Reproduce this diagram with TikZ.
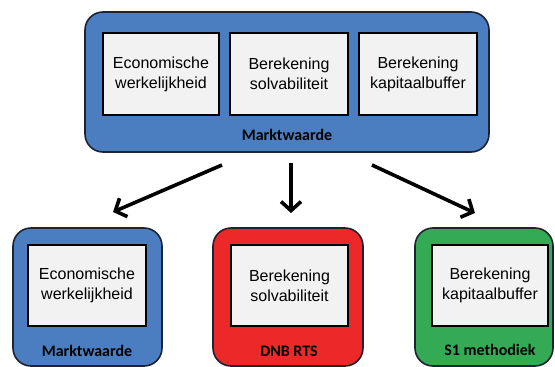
\documentclass[tikz,border=0pt]{standalone}
\usepackage{fontspec}
\setmainfont{Liberation Sans}
\newfontfamily\labelfont{Carlito}
\usetikzlibrary{arrows.meta}
\definecolor{boxblue}{RGB}{74,126,193}
\definecolor{boxred}{RGB}{236,40,40}
\definecolor{boxgreen}{RGB}{52,170,84}
\definecolor{innerfill}{RGB}{242,242,242}
\definecolor{edgedark}{RGB}{30,35,50}
\begin{document}
\begin{tikzpicture}[x=1pt,y=-1pt,
  outerbox/.style={draw=edgedark,line width=1.6pt,rounded corners=18pt,inner sep=0pt},
  innerbox/.style={draw=black,line width=1.6pt,fill=innerfill,inner sep=0pt,
    align=center,font=\fontsize{16}{20}\selectfont},
  lbl/.style={font=\labelfont\bfseries\fontsize{16}{18}\selectfont,inner sep=0pt},
  arr/.style={line width=3.6pt,-{Straight Barb[length=9pt,width=20pt,line width=3.6pt]}}
]
\useasboundingbox (0,0) rectangle (555,367);
% top group
\node[outerbox,fill=boxblue,minimum width=404pt,minimum height=140pt] (top) at (287,82) {};
\node[innerbox,minimum width=116pt,minimum height=82pt] (t1) at (161,74) {Economische\\werkelijkheid};
\node[innerbox,minimum width=118pt,minimum height=82pt] (t2) at (289,74) {Berekening\\solvabiliteit};
\node[innerbox,minimum width=118pt,minimum height=82pt] (t3) at (418,74) {Berekening\\kapitaalbuffer};
\node[lbl] (tl) at (287,135) {Marktwaarde};
% bottom groups
\node[outerbox,fill=boxblue,minimum width=149pt,minimum height=138pt] (b1) at (87.5,297) {};
\node[outerbox,fill=boxred,minimum width=150pt,minimum height=138pt] (b2) at (288,297) {};
\node[outerbox,fill=boxgreen,minimum width=138pt,minimum height=138pt] (b3) at (484,297) {};
\node[innerbox,minimum width=118pt,minimum height=81pt] (i1) at (87,285.5) {Economische\\werkelijkheid};
\node[innerbox,minimum width=117pt,minimum height=81pt] (i2) at (289.5,285.5) {Berekening\\solvabiliteit};
\node[innerbox,minimum width=116pt,minimum height=81pt] (i3) at (490,285.5) {Berekening\\kapitaalbuffer};
\node[lbl] (l1) at (87,351) {Marktwaarde};
\node[lbl] (l2) at (289,351) {DNB RTS};
\node[lbl] (l3) at (490,350) {S1 methodiek};
% arrows
\coordinate (a1s) at (222,165); \coordinate (a1e) at (113,212);
\coordinate (a2s) at (291,163); \coordinate (a2e) at (291,213);
\coordinate (a3s) at (372,165); \coordinate (a3e) at (475,213);
\draw[arr] (a1s) -- (a1e);
\draw[arr] (a2s) -- (a2e);
\draw[arr] (a3s) -- (a3e);
\end{tikzpicture}
\end{document}
